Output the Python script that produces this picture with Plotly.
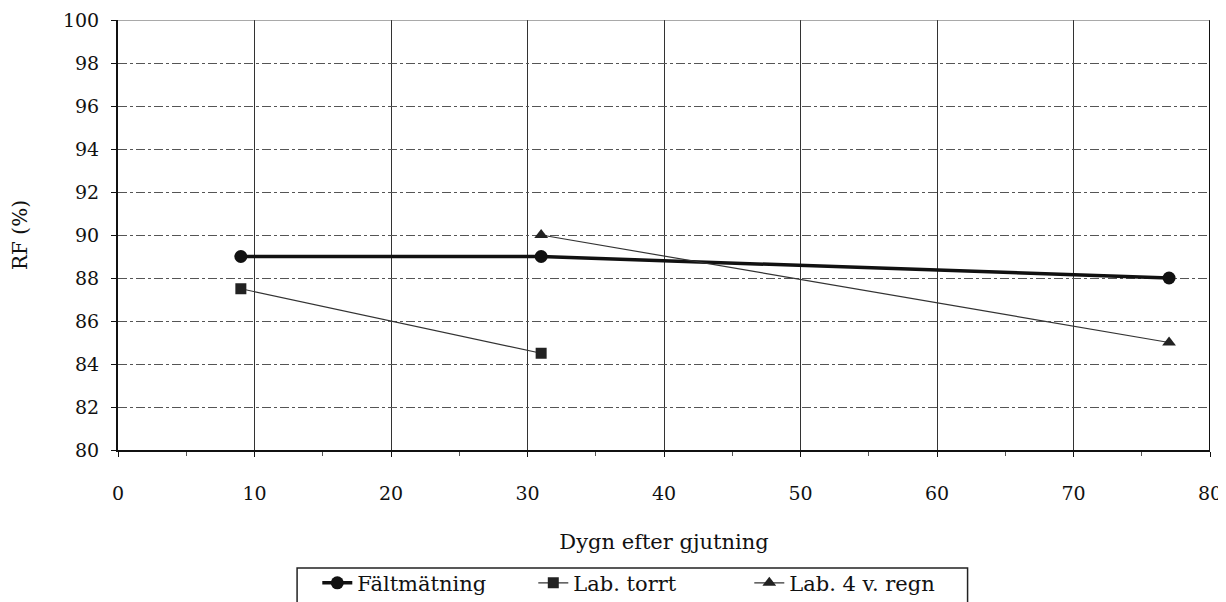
import plotly.graph_objects as go

# Dygn efter gjutning
falt_x = [9, 31, 77]
falt_y = [89, 89, 88]
torrt_x = [9, 31]
torrt_y = [87.5, 84.5]
regn_x = [31, 77]
regn_y = [90, 85]

x_ticks = [0, 10, 20, 30, 40, 50, 60, 70, 80]
y_ticks = [80, 82, 84, 86, 88, 90, 92, 94, 96, 98, 100]

font = "DejaVu Serif"

fig = go.Figure()
fig.add_trace(go.Scatter(x=falt_x, y=falt_y, name="Fältmätning", mode="lines+markers",
                         line=dict(color="#111", width=3.5),
                         marker=dict(symbol="circle", size=13, color="#111")))
fig.add_trace(go.Scatter(x=torrt_x, y=torrt_y, name="Lab. torrt", mode="lines+markers",
                         line=dict(color="#333", width=1.2),
                         marker=dict(symbol="square", size=11, color="#222")))
fig.add_trace(go.Scatter(x=regn_x, y=regn_y, name="Lab. 4 v. regn", mode="lines+markers",
                         line=dict(color="#333", width=1.2),
                         marker=dict(symbol="triangle-up", size=12, color="#222")))

# page body has an 8px margin, so the figure is 8px smaller and shifted
fig.update_layout(
    width=1218, height=594,
    margin=dict(l=110, r=16, t=12, b=152, autoexpand=False),
    plot_bgcolor="white", paper_bgcolor="white",
    font=dict(family=font, size=20, color="#111"),
    showlegend=True,
    legend=dict(orientation="h", x=0.1825, xanchor="left", y=-0.262, yanchor="top",
                borderwidth=0, bgcolor="rgba(0,0,0,0)", font=dict(family=font, size=21),
                itemwidth=30, entrywidth=171, tracegroupgap=0),
    xaxis=dict(range=[0, 80], tickvals=x_ticks, showgrid=True, gridcolor="#333", gridwidth=1,
               showline=True, linecolor="#111", linewidth=2, ticks="outside", ticklen=5,
               tickcolor="#111", zeroline=False, automargin=False,
               tickfont=dict(family=font, size=19), ticklabeloverflow="allow",
               ticklabelstandoff=20,
               minor=dict(dtick=5, ticks="outside", ticklen=4, tickcolor="#555", showgrid=False),
               title=dict(text="Dygn efter gjutning", font=dict(family=font, size=21), standoff=32)),
    yaxis=dict(range=[80, 100], tickvals=y_ticks, showgrid=True, gridcolor="#555", gridwidth=1,
               griddash="dashdot",
               showline=True, linecolor="#111", linewidth=2, ticks="outside", ticklen=5,
               tickcolor="#111", zeroline=False, automargin=False,
               tickfont=dict(family=font, size=19), ticklabeloverflow="allow",
               ticklabelstandoff=8,
               title=dict(text="RF (%)", font=dict(family=font, size=20), standoff=40)),
)
fig.add_shape(type="line", xref="x", yref="y", x0=80, x1=80, y0=80, y1=100,
              line=dict(color="#111", width=2))
fig.add_shape(type="line", xref="x", yref="y", x0=0, x1=80, y0=100, y1=100,
              line=dict(color="#555", width=1))
# legend frame
fig.add_shape(type="rect", xref="paper", yref="paper", x0=0.164, x1=0.778, y0=-0.37, y1=-0.2744,
              line=dict(color="#222", width=1.5))

fig.write_html("out.html")
